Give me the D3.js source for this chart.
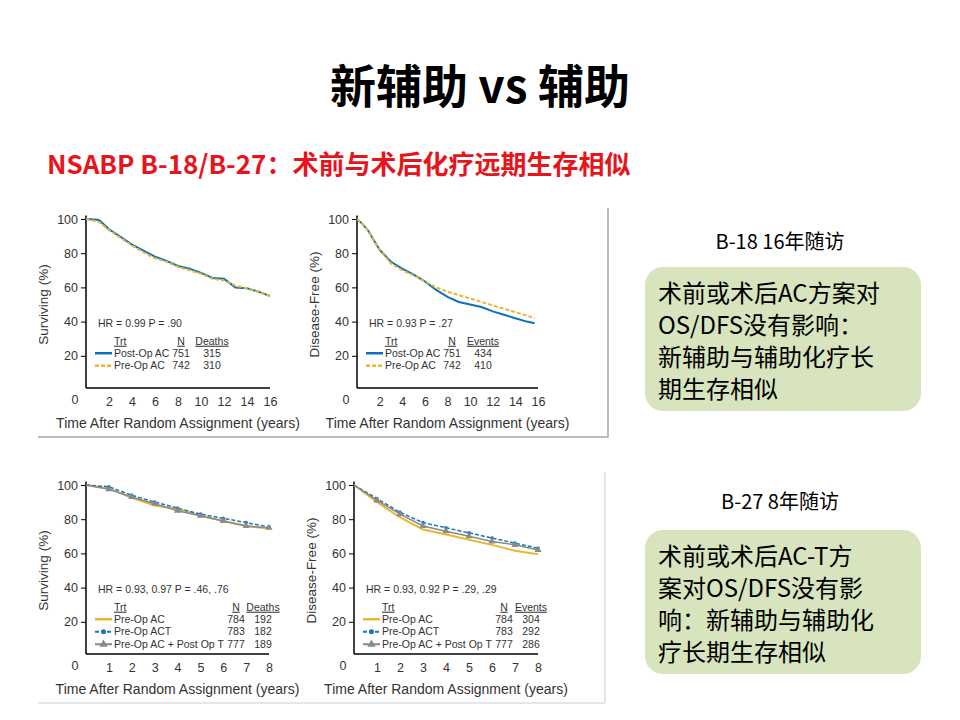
<!DOCTYPE html><html><head><meta charset="utf-8"><script src="https://cdn.jsdelivr.net/npm/d3@7"></script>
<style>body{margin:0;background:#fff}svg{font-family:"Noto Sans CJK SC",Arial,sans-serif}</style></head><body><svg id="c" width="960" height="720"></svg>
<script>
const t16=[0,1,1.2,2,3,4,5,6,7,8,9,10,11,12,13,14,15,16];
const osPost=[100,99.5,99,94,89.5,85,81.5,78,75.5,72.5,71,68.5,65.5,65,60,59.5,57.5,55];
const osPre=[100,98.5,98,93.5,89,84.5,80.5,77,75,72,70,68,65,64,61,59.5,57.5,55];
const dfsT=[0,0.5,1,2,3,4,5,6,7,8,9,10,11,12,13,14,15,15.7];
const dfsPost=[100,97,93,82,75,71,67.5,63.5,58.5,54.5,51.5,50,48.5,46,44,42,40,39];
const dfsPre=[100,97,93,82,74,70,67,63.5,60,57.5,55.5,53.5,51.5,49.5,47.5,45.5,43.5,42];
const t8=[0,1,2,3,4,5,6,7,8];
const os27AC=[100,98,92.5,88,86,82,79,76,74.5];
const os27ACT=[100,99,94,90,86.5,83,80.5,78,75.5];
const os27T=[100,97.5,93,89,85,82,79,76,75];
const dfs27AC=[100,90,81,74,71,68,65,61.5,59.5];
const dfs27ACT=[100,92,84,78,75,72,69,66,63];
const dfs27T=[100,91,83,76,73,70,67,65,62];
const svg=d3.select("#c");
svg.append("text").attr("x",480).attr("y",103).attr("text-anchor","middle").attr("font-size",46).attr("font-weight","bold").text("新辅助 vs 辅助");
svg.append("text").attr("x",47).attr("y",174).attr("font-size",26).attr("font-weight","bold").attr("fill","#e8141c").text("NSABP B-18/B-27：术前与术后化疗远期生存相似");
svg.append("path").attr("d","M38,437H608V208").attr("fill","none").attr("stroke","#9aaab8").attr("stroke-width",1.5);
svg.append("path").attr("d","M38,703H605V472").attr("fill","none").attr("stroke","#c8d0d8").attr("stroke-width",1);
const BLUE="#0a72b8",GOLD="#e8b830",GRAY="#8a8a8a";
function panel(o){
 const g=svg.append("g");
 const x=d3.scaleLinear().domain([0,o.xmax]).range([o.x0,o.x1]);
 const y=d3.scaleLinear().domain([0,100]).range([o.y0,o.y0-171]);
 g.append("g").attr("transform",`translate(0,${o.y0-2})`).call(d3.axisBottom(x).tickValues(o.ticks).tickSize(0).tickPadding(9).tickFormat(d3.format("d")))
  .call(a=>{a.select(".domain").attr("stroke","#000").attr("stroke-width",1.5).attr("d",`M${o.x0},0H${o.x1}`);a.selectAll("text").attr("font-size",12.5).attr("font-family","Arial").attr("fill","#333");});
 g.append("g").attr("transform",`translate(${o.x0},0)`).call(d3.axisLeft(y).tickValues([20,40,60,80,100]).tickSize(5).tickPadding(3))
  .call(a=>{a.select(".domain").attr("stroke","#000").attr("stroke-width",1.5).attr("d",`M0,${y(102)}V${o.y0-2}`);a.selectAll("text").attr("font-size",12.5).attr("font-family","Arial").attr("fill","#333");});
 g.append("text").attr("x",o.x0-11).attr("y",o.y0+14).attr("text-anchor","middle").attr("font-size",12.5).attr("font-family","Arial").attr("fill","#333").text("0");
 g.append("text").attr("transform",`translate(${o.x0-38},${y(50)}) rotate(-90)`).attr("text-anchor","middle").attr("font-size",13.5).attr("font-family","Arial").attr("fill","#333").text(o.ylab);
 g.append("text").attr("x",(o.x0+o.x1)/2).attr("y",o.y0+38).attr("text-anchor","middle").attr("font-size",14).attr("font-family","Arial").attr("fill","#333").text("Time After Random Assignment (years)");
 const ln=d3.line().x(d=>x(d[0])).y(d=>y(d[1]));
 o.series.forEach(s=>{
  const pts=s.t.map((t,i)=>[t,s.v[i]]);
  g.append("path").attr("d",ln(pts)).attr("fill","none").attr("stroke",s.c).attr("stroke-width",s.w||2).attr("stroke-dasharray",s.dash||null);
  if(s.mk){pts.slice(1).forEach(p=>{if(s.mk==="dot")g.append("circle").attr("cx",x(p[0])).attr("cy",y(p[1])).attr("r",1.8).attr("fill",s.c);
   else g.append("path").attr("d",d3.symbol(d3.symbolTriangle,22)()).attr("transform",`translate(${x(p[0])},${y(p[1])})`).attr("fill",s.c);});}
 });
 const T=(xx,yy,s,anc,ul)=>{const e=g.append("text").attr("x",xx).attr("y",yy).attr("text-anchor",anc||"start").attr("font-size",10.5).attr("font-family","Arial").attr("fill","#333").text(s);if(ul)e.attr("text-decoration","underline");return e;};
 const lx=o.x0+9,ly=y(37);
 T(lx+3,ly,o.hr);
 T(lx+19,ly+18,"Trt",null,true);
 T(lx+o.nX,ly+18,"N","middle",true);
 T(lx+o.dX,ly+18,o.evLab,"middle",true);
 o.series.forEach((s,i)=>{
  const yy=ly+30+i*12.5;
  g.append("line").attr("x1",lx).attr("x2",lx+17).attr("y1",yy-3.5).attr("y2",yy-3.5).attr("stroke",s.c).attr("stroke-width",s.mk?2:2.5).attr("stroke-dasharray",s.dash||null);
  if(s.mk==="dot")g.append("circle").attr("cx",lx+8.5).attr("cy",yy-3.5).attr("r",2.5).attr("fill",s.c);
  if(s.mk==="tri")g.append("path").attr("d",d3.symbol(d3.symbolTriangle,30)()).attr("transform",`translate(${lx+8.5},${yy-3.5})`).attr("fill",s.c);
  T(lx+19,yy,s.name);T(lx+o.nX,yy,s.n,"middle");T(lx+o.dX,yy,s.e,"middle");
 });
}
const lab="Surviving (%)",dlab="Disease-Free (%)";
panel({x0:86,x1:270,xmax:16,y0:390,ticks:[2,4,6,8,10,12,14,16],ylab:lab,hr:"HR = 0.99    P = .90",nX:86,dX:117,evLab:"Deaths",series:[
 {t:t16,v:osPost,c:BLUE,name:"Post-Op AC",n:751,e:315},{t:t16,v:osPre,c:GOLD,dash:"4,2",name:"Pre-Op AC",n:742,e:310}]});
panel({x0:357,x1:538,xmax:16,y0:390,ticks:[2,4,6,8,10,12,14,16],ylab:dlab,hr:"HR = 0.93    P = .27",nX:86,dX:117,evLab:"Events",series:[
 {t:dfsT,v:dfsPost,c:BLUE,name:"Post-Op AC",n:751,e:434},{t:dfsT,v:dfsPre,c:GOLD,dash:"4,2",name:"Pre-Op AC",n:742,e:410}]});
panel({x0:86,x1:269,xmax:8,y0:656,ticks:[1,2,3,4,5,6,7,8],ylab:lab,hr:"HR = 0.93, 0.97    P = .46, .76",nX:141,dX:168,evLab:"Deaths",series:[
 {t:t8,v:os27AC,c:GOLD,name:"Pre-Op AC",n:784,e:192},{t:t8,v:os27ACT,c:"#1a78b8",dash:"4,2",mk:"dot",w:1.5,name:"Pre-Op ACT",n:783,e:182},{t:t8,v:os27T,c:GRAY,mk:"tri",w:1.5,name:"Pre-Op AC + Post Op T",n:777,e:189}]});
panel({x0:354,x1:538,xmax:8,y0:656,ticks:[1,2,3,4,5,6,7,8],ylab:dlab,hr:"HR = 0.93, 0.92    P = .29, .29",nX:141,dX:168,evLab:"Events",series:[
 {t:t8,v:dfs27AC,c:GOLD,name:"Pre-Op AC",n:784,e:304},{t:t8,v:dfs27ACT,c:"#1a78b8",dash:"4,2",mk:"dot",w:1.5,name:"Pre-Op ACT",n:783,e:292},{t:t8,v:dfs27T,c:GRAY,mk:"tri",w:1.5,name:"Pre-Op AC + Post Op T",n:777,e:286}]});
function note(title,ty,by,lines){
 svg.append("text").attr("x",780).attr("y",ty).attr("text-anchor","middle").attr("font-size",20).text(title);
 svg.append("rect").attr("x",645).attr("y",by).attr("width",276).attr("height",lines.length*32+16).attr("rx",18).attr("fill","#d7e4bd");
 lines.forEach((l,i)=>svg.append("text").attr("x",658).attr("y",by+35+i*32).attr("font-size",24).text(l));
}
note("B-18 16年随访",249,267,["术前或术后AC方案对","OS/DFS没有影响：","新辅助与辅助化疗长","期生存相似"]);
note("B-27 8年随访",509,530,["术前或术后AC-T方","案对OS/DFS没有影","响：新辅助与辅助化","疗长期生存相似"]);
</script></body></html>
